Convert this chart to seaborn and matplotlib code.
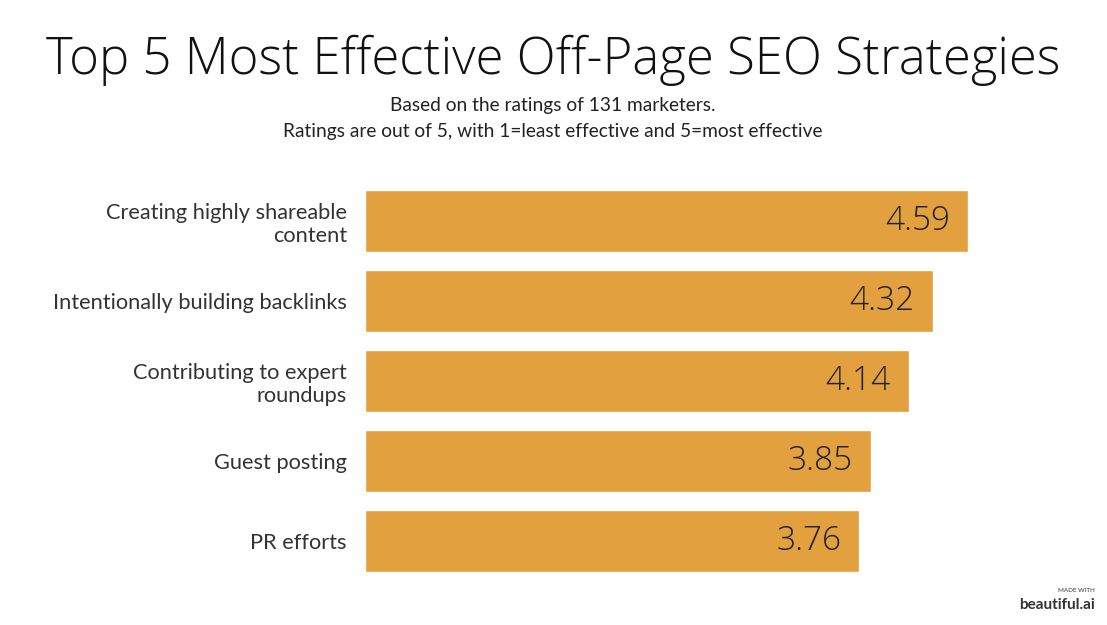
import matplotlib
matplotlib.use("Agg")
import matplotlib.pyplot as plt
import seaborn as sns
import pandas as pd

categories = ["Creating highly shareable\ncontent", "Intentionally building backlinks",
              "Contributing to expert\nroundups", "Guest posting", "PR efforts"]
values = [4.59, 4.32, 4.14, 3.85, 3.76]
value_labels = ["4.59", "4.32", "4.14", "3.85", "3.76"]

sns.set_theme(style="white")
plt.rcParams['font.family'] = ['Lato', 'DejaVu Sans']

W, H = 1107, 625
fig = plt.figure(figsize=(W/100, H/100), dpi=100)
ax = fig.add_axes([365/W, 1-581/H, (1000-365)/W, 400/H])
df = pd.DataFrame({"cat": categories, "val": values})
sns.barplot(data=df, x="val", y="cat", color="#E2A03F", saturation=1, width=0.775, ax=ax)
ax.set_xlim(0, 635/131.4)
ax.set_ylim(4.5, -0.5)
ax.set_xlabel(""); ax.set_ylabel("")
ax.set_xticks([])
ax.tick_params(axis="y", length=0, pad=13, labelsize=15.7, labelcolor="#333333")
for s in ax.spines.values():
    s.set_visible(False)
for i, (v, t) in enumerate(zip(values, value_labels)):
    ax.text(v - 18/131.4, i, t, ha="right", va="center", fontsize=24,
            family=["Open Sans", "DejaVu Sans"], fontweight=300, color="#222222")

fig.text(553/W, 1-60/H, "Top 5 Most Effective Off-Page SEO Strategies", ha="center", va="center",
         fontsize=36.6, family=["Open Sans", "DejaVu Sans"], fontweight=300, color="#111111")
fig.text(553/W, 1-106/H, "Based on the ratings of 131 marketers.", ha="center", va="center",
         fontsize=13.8, color="#222222")
fig.text(553/W, 1-131/H, "Ratings are out of 5, with 1=least effective and 5=most effective",
         ha="center", va="center", fontsize=13.8, color="#222222")
fig.text(1095/W, 1-590/H, "MADE WITH", ha="right", va="center", fontsize=4.5, color="#333333")
fig.text(1095/W, 1-605/H, "beautiful.ai", ha="right", va="center", fontsize=11,
         fontweight="bold", color="#333333")
fig.savefig("out.png", dpi=100)
